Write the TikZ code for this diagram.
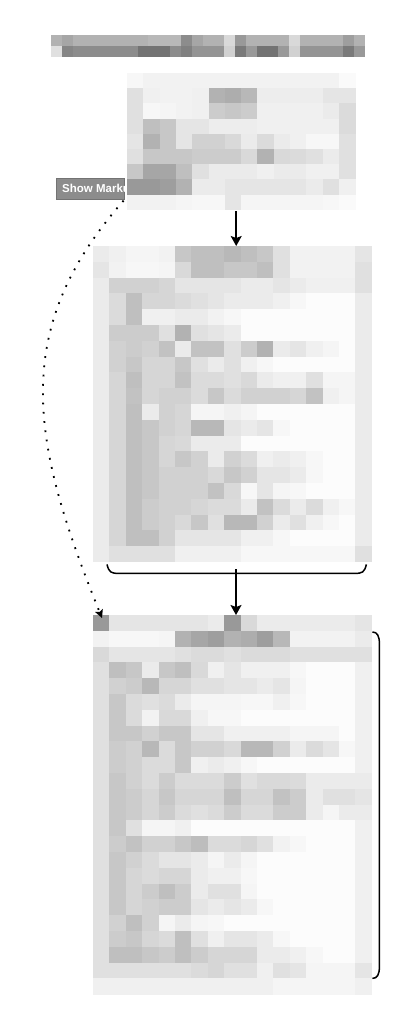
\documentclass[tikz,border=0pt]{standalone}
\usepackage{fontspec}
\setmainfont{Liberation Sans}
\usetikzlibrary{arrows.meta}
\newcommand\mosaicgrid[5]{%
  \foreach \row [count=\r from 0] in {#5} {
    \foreach \v [count=\c from 0] in \row {
      \fill[black!\v] ({#1+\c*#3},{#2+\r*#4}) rectangle ++({#3+0.4},{#4+0.4});
    }
  }}
\tikzset{
  conn/.style={line width=1.5pt, black},
  tipa/.style={-{Stealth[length=10pt,width=11pt,inset=2pt]}},
  dotconn/.style={line width=1.8pt, dash pattern=on 1.8pt off 7.5pt, -{Stealth[length=8pt,width=8pt,inset=1.5pt]}},
  lblbox/.style={fill=black!45, draw=black!55, line width=0.6pt, inner sep=0pt, anchor=north west},
  region/.style={inner sep=0pt, anchor=north west}
}
\begin{document}
\begin{tikzpicture}[x=1pt,y=-1pt]
\useasboundingbox (0,0) rectangle (418,1027);
\fill[white] (0,0) rectangle (418,1027);
% named regions
\node[region, minimum width=316, minimum height=22] (title) at (51,35) {};
\node[region, minimum width=228, minimum height=137] (b1) at (127,73) {};
\node[region, minimum width=279, minimum height=316] (b2) at (93,246) {};
\node[region, minimum width=279, minimum height=379] (b3) at (93,615) {};
% title bar
\mosaicgrid{51}{35}{10.83}{11}{
{30,35,30,30,30,30,30,30,30,28,28,28,45,35,30,30,15,40,30,30,30,30,15,30,30,30,30,38,30},
{12,48,45,45,45,45,45,45,55,55,55,45,50,42,42,42,18,52,40,55,55,40,18,42,42,42,42,52,40}}
% box 1
\mosaicgrid{127}{73}{16.3}{15.2}{
{3,5,5,5,5,5,5,5,5,5,5,5,5,2},
{12,6,5,5,6,30,32,28,7,7,7,7,10,10},
{12,3,4,5,6,20,22,20,6,6,6,6,8,14},
{12,25,22,10,10,7,7,7,6,6,6,6,6,14},
{10,30,22,10,18,18,15,8,14,8,6,3,3,12},
{12,22,22,22,20,20,20,15,30,15,14,12,8,12},
{22,35,35,25,12,8,8,8,6,8,8,6,6,12},
{40,40,38,30,8,8,10,10,10,10,10,8,12,6},
{5,5,5,4,3,3,10,4,4,4,4,4,3,2}}
% box 2
\mosaicgrid{93}{246}{16.4}{15.8}{
{8,6,4,4,5,22,25,25,28,25,22,12,5,5,5,5,10},
{10,5,3,3,4,15,25,25,22,22,25,12,5,5,5,5,12},
{8,18,18,18,16,10,10,10,10,8,8,10,8,6,6,6,12},
{8,14,25,16,16,14,12,10,8,8,8,6,3,1,1,1,8},
{8,14,25,6,6,8,8,5,3,1,1,1,1,1,1,1,8},
{8,20,20,20,12,30,12,10,8,1,1,1,1,1,1,1,8},
{8,18,20,18,24,8,24,24,12,20,30,8,10,6,4,1,8},
{8,18,22,16,16,22,12,8,12,6,3,1,1,1,1,1,8},
{8,16,25,16,16,24,14,14,12,15,8,6,6,12,4,4,8},
{8,16,24,16,18,18,14,22,14,18,18,18,16,24,6,4,8},
{8,16,25,8,18,16,4,4,6,4,1,1,1,1,1,1,8},
{8,16,25,22,18,16,28,28,10,8,10,3,1,1,1,1,8},
{8,16,25,22,16,15,8,8,8,1,1,1,1,1,1,1,8},
{8,16,25,22,16,22,18,8,18,14,6,8,6,3,1,1,8},
{8,16,25,22,18,18,18,15,22,18,10,10,8,3,1,1,8},
{8,16,25,22,18,18,18,24,15,3,10,4,3,1,1,1,8},
{8,16,25,20,18,18,16,14,14,8,24,14,8,14,6,3,8},
{8,16,25,20,18,15,22,12,28,28,18,8,12,6,3,1,8},
{8,16,25,25,18,10,10,10,10,6,6,3,1,1,1,1,8},
{8,12,12,12,12,6,6,6,6,3,3,3,3,3,3,3,12}}
% box 3
\mosaicgrid{93}{615}{16.4}{15.8}{
{40,10,10,10,10,10,10,8,40,15,8,8,8,8,8,8,10},
{5,3,3,3,4,30,35,38,30,32,38,28,5,5,5,5,8},
{15,10,10,10,10,12,14,14,12,14,14,14,12,12,12,12,12},
{12,25,22,8,22,25,15,6,10,6,6,6,3,1,1,1,6},
{12,18,20,28,16,16,12,12,10,10,8,10,4,1,1,1,6},
{12,22,14,12,14,8,4,4,4,3,3,6,3,1,1,1,6},
{12,22,14,5,15,15,6,3,3,1,1,1,1,1,1,1,6},
{12,22,22,18,22,22,10,10,6,6,6,6,4,4,4,1,6},
{12,20,18,28,14,22,18,18,15,28,28,18,8,14,10,3,6},
{12,20,18,14,14,22,6,8,6,3,1,1,1,1,1,1,6},
{12,22,18,14,20,14,14,14,20,12,15,15,14,8,8,8,8},
{12,22,20,16,22,16,16,16,25,16,16,24,20,8,12,12,10},
{12,22,20,16,20,14,12,14,20,14,14,20,20,8,4,8,8},
{12,22,12,4,4,6,1,1,1,1,1,1,1,1,1,1,6},
{12,20,24,18,18,22,26,14,14,16,12,5,3,1,1,1,6},
{12,22,18,14,10,10,8,4,8,4,1,1,1,1,1,1,6},
{12,22,16,14,16,16,8,6,6,3,1,1,1,1,1,1,6},
{12,22,16,20,25,20,8,12,12,4,1,1,1,1,1,1,6},
{12,22,16,18,20,20,10,8,10,8,3,1,1,1,1,1,6},
{12,18,25,18,4,8,4,3,1,1,1,1,1,1,1,1,6},
{12,20,22,16,14,25,12,6,10,10,8,3,1,1,1,1,6},
{12,25,25,22,20,25,20,16,16,16,8,8,6,3,1,1,6},
{12,12,12,12,12,12,14,16,12,12,6,12,10,4,4,4,10},
{6,6,6,6,6,6,6,6,6,6,6,4,4,4,4,4,6}}
% label
\node[lblbox, minimum width=68, minimum height=21] (lbl) at (56,178) {};
\begin{scope}
  \clip (lbl.south west) rectangle (lbl.north east);
  \node[anchor=west, text=white, inner sep=0pt, font=\bfseries\fontsize{11.5}{13}\selectfont] (lbltxt) at ([xshift=6pt]lbl.west) {Show Marku};
\end{scope}
% connectors
\coordinate (b1out) at ([xshift=-5pt,yshift=-1pt]b1.south);
\coordinate (b2in) at (b1out |- b2.north);
\draw[conn, tipa] (b1out) -- (b2in);
% bracket under box 2
\coordinate (brL) at ([xshift=14pt,yshift=-2pt]b2.south west);
\coordinate (brR) at ([xshift=-6pt,yshift=-2pt]b2.south east);
\coordinate (brM) at (236,569);
\draw[conn] (brL) .. controls ++(2,8) and ++(-8,0) .. ([xshift=12pt,yshift=-9pt]brL) -- ([xshift=-12pt,yshift=-9pt]brR) .. controls ++(8,0) and ++(-2,8) .. (brR);
\draw[conn, tipa] (brM) -- (brM |- b3.north);
% right bracket of box 3
\coordinate (rbT) at ([xshift=0pt,yshift=-17pt]b3.north east);
\coordinate (rbB) at ([xshift=0pt,yshift=16pt]b3.south east);
\draw[conn] (rbT) .. controls ++(5,0) and ++(0,-8) .. ([xshift=7pt,yshift=-12pt]rbT) -- ([xshift=7pt,yshift=12pt]rbB) .. controls ++(0,8) and ++(5,0) .. (rbB);
% dotted curve
\coordinate (dstart) at ([xshift=-1pt,yshift=-1pt]lbl.south east);
\coordinate (dend) at ([xshift=9pt,yshift=-3pt]b3.north west);
\draw[dotconn] (dstart) .. controls (10,330) and (30,440) .. (dend);
\end{tikzpicture}
\end{document}
